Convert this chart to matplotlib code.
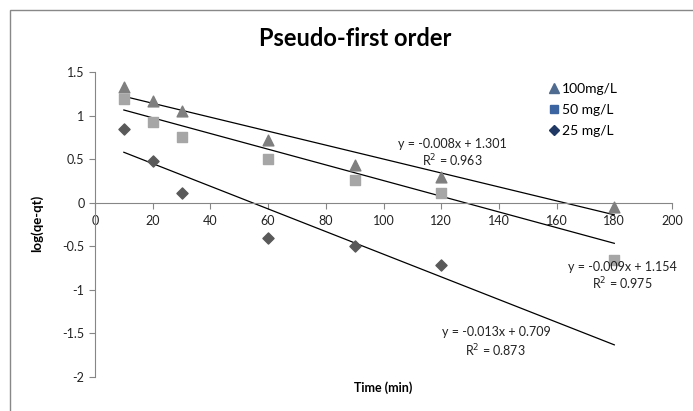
import matplotlib
matplotlib.use('Agg')
import matplotlib.pyplot as plt
from matplotlib.lines import Line2D
from matplotlib.patches import Rectangle
import numpy as np

plt.rcParams['font.family'] = ['Lato', 'DejaVu Sans']

# data
time_100 = [10, 20, 30, 60, 90, 120, 180]
log_100 = [1.33, 1.17, 1.05, 0.72, 0.43, 0.30, -0.05]
time_50 = [10, 20, 30, 60, 90, 120, 180]
log_50 = [1.19, 0.93, 0.75, 0.50, 0.26, 0.11, -0.66]
time_25 = [10, 20, 30, 60, 90, 120]
log_25 = [0.85, 0.48, 0.11, -0.40, -0.50, -0.72]

# trendline fits (slope, intercept, R^2) as shown
fit_slope = [-0.008, -0.009, -0.013]
fit_inter = [1.301, 1.154, 0.709]
fit_r2 = [0.963, 0.975, 0.873]
fit_range = (10, 180)

labels = ['100mg/L', '50 mg/L', '25 mg/L']
x_ticks = [0, 20, 40, 60, 80, 100, 120, 140, 160, 180, 200]
y_ticks = [-2, -1.5, -1, -0.5, 0, 0.5, 1, 1.5]

W, H = 693, 411
fig = plt.figure(figsize=(W / 100, H / 100), dpi=100)
fig.patches.append(Rectangle((10 / W, -0.05), 1.2, 1 - 10 / H + 0.05,
                             transform=fig.transFigure, fill=False,
                             edgecolor='#888888', linewidth=1.0))

ax = fig.add_axes([95 / W, 1 - 377 / H, (672 - 95) / W, (377 - 72) / H])
ax.set_xlim(0, 200)
ax.set_ylim(-2, 1.5)

# markers
ax.scatter(time_100, log_100, marker='^', s=60, color='#7f7f7f', zorder=3)
ax.scatter(time_50, log_50, marker='s', s=50, color='#a6a6a6', zorder=3)
ax.scatter(time_25, log_25, marker='D', s=32, color='#595959', zorder=3)

# trendlines
xs = np.array(fit_range)
for m, b in zip(fit_slope, fit_inter):
    ax.plot(xs, m * xs + b, color='black', linewidth=0.9, zorder=2)

# equation labels
eq_pos = [(452, 144), (622, 267), (496, 332)]
r2_pos = [(452, 161), (622, 284), (495, 351)]
for m, b, r2, (ex, ey), (rx, ry) in zip(fit_slope, fit_inter, fit_r2, eq_pos, r2_pos):
    fig.text(ex / W, 1 - ey / H, f'y = {m:.3f}x + {b:.3f}', ha='center', va='center',
             fontsize=9, color='#222222')
    fig.text(rx / W, 1 - ry / H, f'R$^2$ = {r2:.3f}', ha='center', va='center',
             fontsize=9, color='#222222')

# spines / axes style
for s in ['top', 'right']:
    ax.spines[s].set_visible(False)
ax.spines['bottom'].set_position(('data', 0))
ax.spines['left'].set_color('#868686')
ax.spines['bottom'].set_color('#868686')
ax.set_xticks(x_ticks)
ax.set_yticks(y_ticks)
ax.set_yticklabels([f'{v:g}' for v in y_ticks])
ax.tick_params(axis='both', colors='#868686', labelcolor='#222222', labelsize=9,
               length=4, width=0.8)
ax.tick_params(axis='x', pad=5)

fig.text(383 / W, 1 - 388 / H, 'Time (min)', ha='center', va='center',
         fontsize=9, fontweight='bold')
fig.text(37 / W, 1 - 223 / H, 'log(qe-qt)', ha='center', va='center',
         fontsize=9.5, fontweight='bold', rotation=90)
fig.text(355 / W, 1 - 38 / H, 'Pseudo-first order', ha='center', va='center',
         fontsize=17, fontweight='bold')

# legend (blue markers as in the reference)
handles = [
    Line2D([], [], marker='^', linestyle='none', color='#4f6b8f', markersize=7),
    Line2D([], [], marker='s', linestyle='none', color='#3c64a0', markersize=6),
    Line2D([], [], marker='D', linestyle='none', color='#1f3864', markersize=5.5),
]
fig.legend(handles, labels, loc='upper left', bbox_to_anchor=(547 / W, 1 - 83 / H),
           frameon=False, fontsize=10, handletextpad=0.1, labelspacing=0.65,
           handlelength=1.0, borderaxespad=0, borderpad=0)

fig.savefig('out.png', dpi=100, facecolor='white')
